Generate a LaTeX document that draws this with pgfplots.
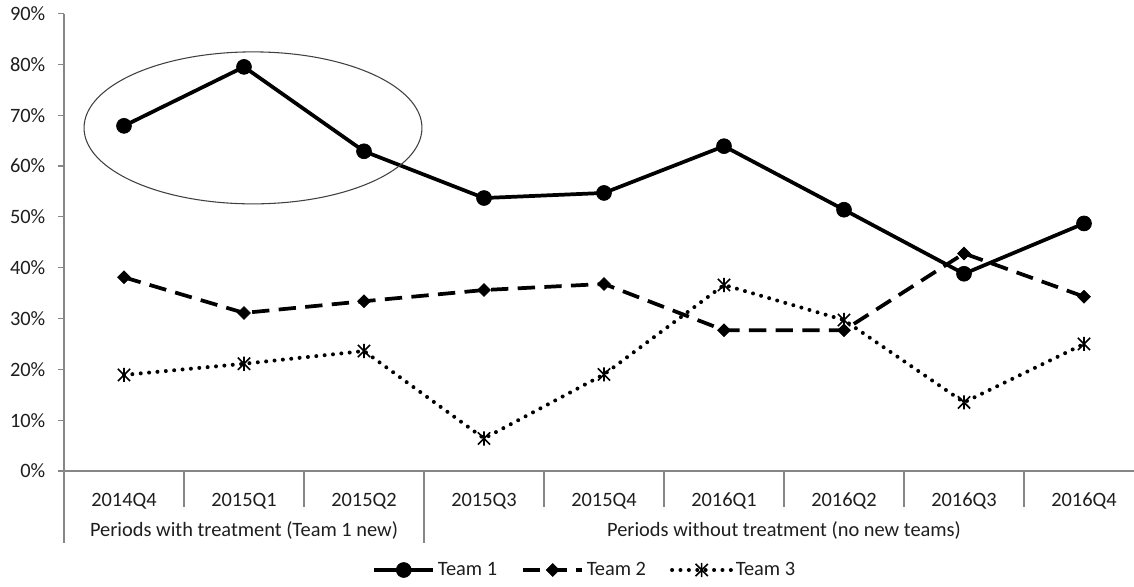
\documentclass[border=0pt]{standalone}
\usepackage{fontspec}
\setmainfont{Carlito}
\usepackage{pgfplots}
\usepackage{pgfplotstable}
\pgfplotsset{compat=1.18}

\pgfdeclareplotmark{xstar}{%
  \pgfpathmoveto{\pgfqpoint{-\pgfplotmarksize}{-\pgfplotmarksize}}%
  \pgfpathlineto{\pgfqpoint{\pgfplotmarksize}{\pgfplotmarksize}}%
  \pgfpathmoveto{\pgfqpoint{-\pgfplotmarksize}{\pgfplotmarksize}}%
  \pgfpathlineto{\pgfqpoint{\pgfplotmarksize}{-\pgfplotmarksize}}%
  \pgfpathmoveto{\pgfqpoint{0pt}{-1.15\pgfplotmarksize}}%
  \pgfpathlineto{\pgfqpoint{0pt}{1.15\pgfplotmarksize}}%
  \pgfusepathqstroke}

\pgfplotstableread{
x t1 t2 t3
0 67.9 38.1 18.9
1 79.5 31.1 21.1
2 62.9 33.4 23.6
3 53.7 35.6 6.4
4 54.7 36.8 19.0
5 63.9 27.7 36.6
6 51.4 27.7 29.7
7 38.8 42.8 13.5
8 48.7 34.3 25.0
}\datatable

\definecolor{axgray}{RGB}{134,134,134}
\definecolor{txt}{RGB}{30,30,30}

\begin{document}
\begin{tikzpicture}[font=\fontsize{15.3}{18}\selectfont]
\path[use as bounding box] (-48pt,-86.25pt) rectangle (802.5pt,353.25pt);
\begin{axis}[
  at={(0,0)}, anchor=south west,
  scale only axis,
  width=802.5pt, height=343.125pt,
  xmin=-0.5, xmax=8.4167,
  ymin=0, ymax=90,
  clip=false,
  axis lines=left,
  axis line style={-, draw=axgray, line width=0.9pt},
  xtick={0,...,8},
  xticklabels={2014Q4,2015Q1,2015Q2,2015Q3,2015Q4,2016Q1,2016Q2,2016Q3,2016Q4},
  xtick style={draw=none},
  xticklabel style={anchor=center, yshift=-18pt, text=txt},
  ytick={0,10,...,90},
  yticklabel={\pgfmathprintnumber{\tick}\%},
  ytick style={draw=axgray, line width=0.9pt},
  tick align=outside,
  major tick length=4.5pt,
  yticklabel style={text=txt, xshift=-6pt},
  /pgf/number format/assume math mode=true,
  legend columns=3,
  legend style={at={(0.487,-0.2164)}, anchor=center, draw=none, fill=none,
    font=\fontsize{15.3}{18}\selectfont, text=txt,
    /tikz/every even column/.append style={column sep=16pt},
    inner sep=0pt, nodes={inner sep=2pt}},
  legend image code/.code={%
    \draw[mark repeat=2,mark phase=2,#1] plot coordinates {(0cm,0cm) (0.78cm,0cm) (1.56cm,0cm)};},
]
\addplot[black, line width=2.8pt, mark=*, mark size=5.6pt, mark options={solid, line width=0.5pt}]
  table[x=x, y=t1] {\datatable};
\addlegendentry{Team 1}
\addplot[black, line width=2.8pt, dash pattern=on 13pt off 7pt, mark=square*, mark size=3.4pt,
  mark options={solid, rotate=45, line width=0.5pt}]
  table[x=x, y=t2] {\datatable};
\addlegendentry{Team 2}
\addplot[black, line width=3pt, line cap=round, dash pattern=on 0pt off 6.3pt, mark=xstar, mark size=4.6pt,
  mark options={solid, line width=1.2pt, line cap=butt}]
  table[x=x, y=t3] {\datatable};
\addlegendentry{Team 3}

\draw[black!75, line width=0.8pt] (axis cs:1.075,67.5) ellipse [x radius=1.408, y radius=14.95];

\pgfplotsinvokeforeach{0.5,1.5,3.5,4.5,5.5,6.5,7.5}{
  \draw[axgray, line width=0.9pt] (axis cs:#1,0) -- ++(0pt,-27pt);
}
\draw[axgray, line width=0.9pt] (axis cs:-0.5,0) -- ++(0pt,-54pt);
\draw[axgray, line width=0.9pt] (axis cs:2.5,0) -- ++(0pt,-54pt);
\node[text=txt] at (axis cs:1,0) [yshift=-44.5pt] {Periods with treatment (Team 1 new)};
\node[text=txt] at (axis cs:5.5,0) [yshift=-44.5pt] {Periods without treatment (no new teams)};
\end{axis}
\end{tikzpicture}
\end{document}
